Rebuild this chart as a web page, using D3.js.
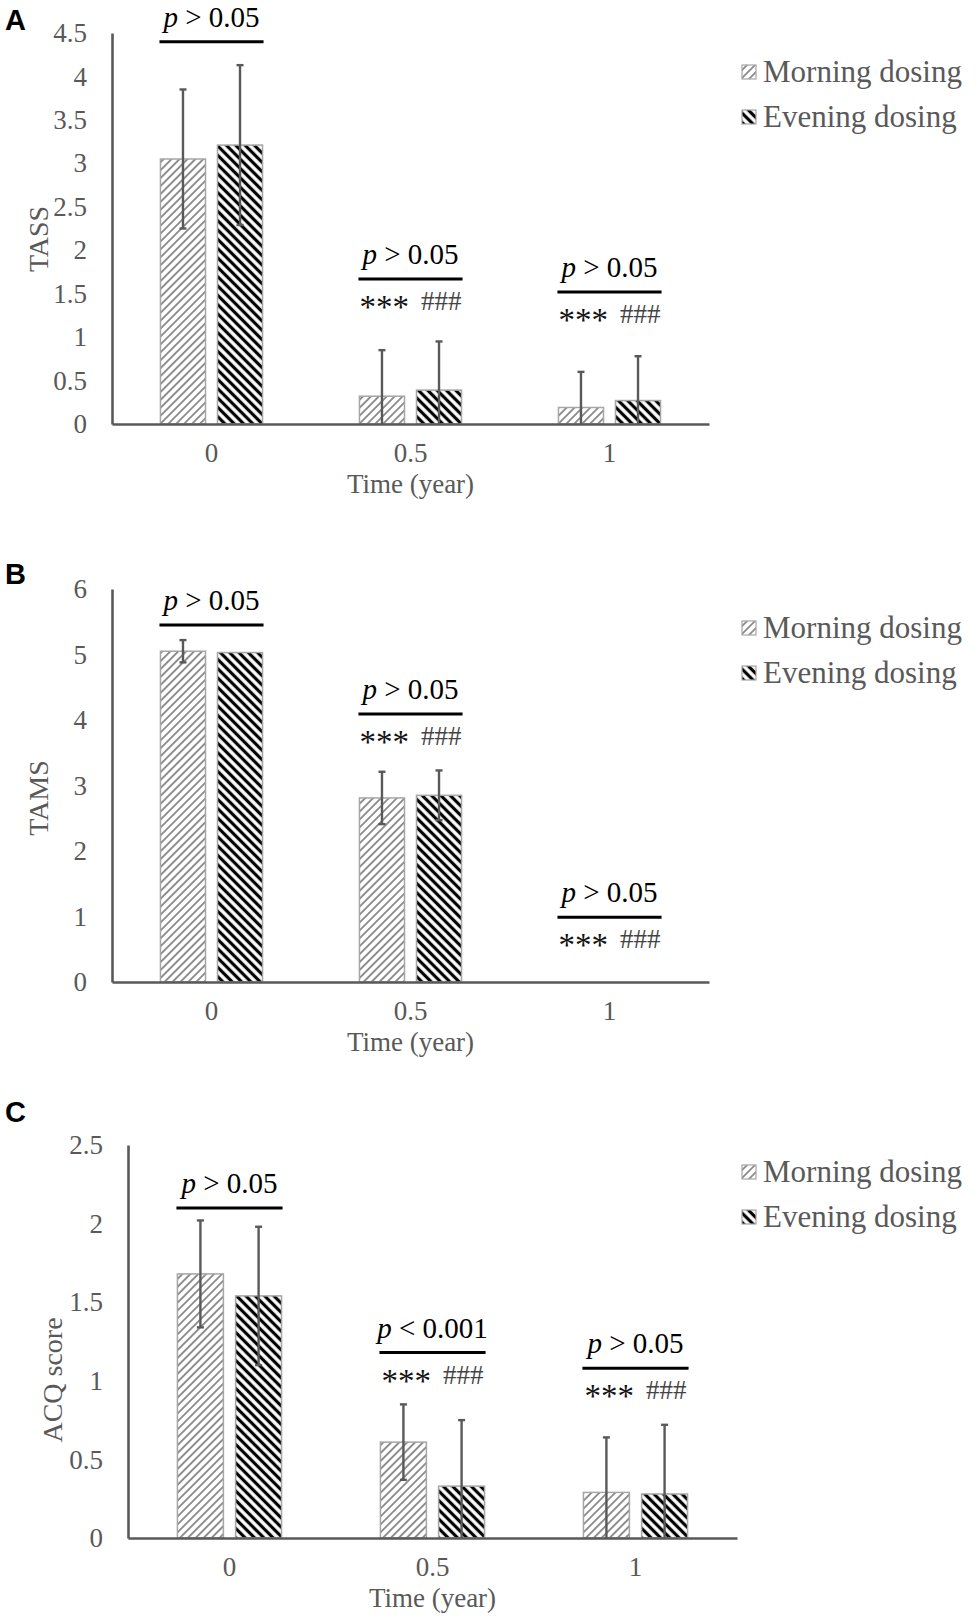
<!DOCTYPE html>
<html>
<head>
<meta charset="utf-8">
<script src="https://cdn.jsdelivr.net/npm/d3@7"></script>
<style>
	body { margin: 0; background: #fff; }
	svg text { font-family: "Liberation Serif", "Times New Roman", serif; }
	.panel-letter { font-family: "Liberation Sans", Arial, sans-serif; font-weight: bold; }
</style>
</head>
<body>
<svg id="figure" width="980" height="1623"></svg>
<script>
// ---- data ----
const timeGroups = ['0', '0.5', '1'];
const seriesNames = ['Morning dosing', 'Evening dosing'];

// A: TASS
const tassMorning = [3.05, 0.32, 0.19];
const tassMorningSd = [0.80, 0.53, 0.41];
const tassEvening = [3.21, 0.39, 0.27];
const tassEveningSd = [0.92, 0.56, 0.51];
const tassTicks = [0, 0.5, 1, 1.5, 2, 2.5, 3, 3.5, 4, 4.5];
const tassPLabels = ['> 0.05', '> 0.05', '> 0.05'];
const tassSig = [false, true, true];
const tassBracket = [4.40, 1.67, 1.52];

// B: TAMS
const tamsMorning = [5.05, 2.81, 0];
const tamsMorningSd = [0.17, 0.40, 0];
const tamsEvening = [5.03, 2.85, 0];
const tamsEveningSd = [0, 0.38, 0];
const tamsTicks = [0, 1, 2, 3, 4, 5, 6];
const tamsPLabels = ['> 0.05', '> 0.05', '> 0.05'];
const tamsSig = [false, true, true];
const tamsBracket = [5.45, 4.09, 0.99];

// C: ACQ score
const acqMorning = [1.68, 0.61, 0.29];
const acqMorningSd = [0.34, 0.24, 0.35];
const acqEvening = [1.54, 0.33, 0.28];
const acqEveningSd = [0.44, 0.42, 0.44];
const acqTicks = [0, 0.5, 1, 1.5, 2, 2.5];
const acqPLabels = ['> 0.05', '< 0.001', '> 0.05'];
const acqSig = [false, true, true];
const acqBracket = [2.10, 1.18, 1.08];

const textGrey = '#595959';

const svg = d3.select('#figure');

// hatch fills (Excel style)
const defs = svg.append('defs');
function addHatch(id, size, angle, color, width) {
	const p = defs.append('pattern')
		.attr('id', id)
		.attr('patternUnits', 'userSpaceOnUse')
		.attr('width', size)
		.attr('height', size)
		.attr('patternTransform', `rotate(${angle})`);
	p.append('rect').attr('width', size).attr('height', size).attr('fill', '#fff');
	p.append('line')
		.attr('x1', size / 2).attr('y1', 0)
		.attr('x2', size / 2).attr('y2', size)
		.attr('stroke', color)
		.attr('stroke-width', width);
}
addHatch('hatch-morning', 5.6, 45, '#878787', 1.8);
addHatch('hatch-evening', 6.6, -45, '#000', 3.2);
const fills = { 'Morning dosing': 'url(#hatch-morning)', 'Evening dosing': 'url(#hatch-evening)' };

class HatchBarChart {
	constructor(_config, _data) {
		this.config = {
			letter: _config.letter,
			letterY: _config.letterY,
			left: _config.left,
			right: _config.right,
			top: _config.top,
			bottom: _config.bottom,
			yMax: _config.yMax,
			ticks: _config.ticks,
			yTitle: _config.yTitle,
			yTitleX: _config.yTitleX,
			yTitleY: _config.yTitleY,
			legendY: _config.legendY
		};
		this.data = _data;
		this.initVis();
	}

	initVis() {
		let vis = this;
		const cfg = vis.config;

		vis.xScale = d3.scaleBand()
			.domain(timeGroups)
			.range([cfg.left, cfg.right])
			.paddingInner(0.487)
			.paddingOuter(0.2435);

		vis.xScaleSubgroup = d3.scaleBand()
			.domain(seriesNames)
			.range([0, vis.xScale.bandwidth()])
			.paddingInner(0.21);

		vis.yScale = d3.scaleLinear()
			.domain([0, cfg.yMax])
			.range([cfg.bottom, cfg.top]);

		vis.g = svg.append('g').attr('class', 'panel');

		vis.renderVis();
	}

	renderVis() {
		let vis = this;
		const cfg = vis.config;
		const y = vis.yScale;

		// bars
		const groups = vis.g.selectAll('.barGroups')
			.data(vis.data)
			.join('g')
				.attr('class', 'barGroups')
				.attr('transform', d => `translate(${vis.xScale(d.time)},0)`);

		groups.selectAll('.bar')
			.data(d => d.values.filter(v => v.value > 0))
			.join('rect')
				.attr('class', 'bar')
				.attr('x', d => vis.xScaleSubgroup(d.key))
				.attr('y', d => y(d.value))
				.attr('width', vis.xScaleSubgroup.bandwidth())
				.attr('height', d => y(0) - y(d.value))
				.attr('fill', d => fills[d.key])
				.attr('stroke', '#a6a6a6')
				.attr('stroke-width', 1.5);

		// error bars (clipped at zero like Excel)
		const err = groups.selectAll('.err')
			.data(d => d.values.filter(v => v.sd > 0))
			.join('g')
				.attr('class', 'err')
				.attr('stroke', textGrey)
				.attr('stroke-width', 2.4);
		const cx = d => vis.xScaleSubgroup(d.key) + vis.xScaleSubgroup.bandwidth() / 2;
		err.append('line')
			.attr('x1', cx).attr('x2', cx)
			.attr('y1', d => y(Math.max(0, d.value - d.sd)))
			.attr('y2', d => y(d.value + d.sd));
		err.append('line')
			.attr('x1', d => cx(d) - 3.5).attr('x2', d => cx(d) + 3.5)
			.attr('y1', d => y(d.value + d.sd)).attr('y2', d => y(d.value + d.sd));
		err.filter(d => d.value - d.sd > 0).append('line')
			.attr('x1', d => cx(d) - 3.5).attr('x2', d => cx(d) + 3.5)
			.attr('y1', d => y(d.value - d.sd)).attr('y2', d => y(d.value - d.sd));

		// axes
		const yAxis = d3.axisLeft(y).tickValues(cfg.ticks).tickFormat(d => String(d)).tickSize(0).tickSizeOuter(0).tickPadding(25);
		const xAxis = d3.axisBottom(vis.xScale).tickSize(0).tickSizeOuter(0).tickPadding(19);

		const yG = vis.g.append('g').attr('transform', `translate(${cfg.left},0)`).call(yAxis);
		const xG = vis.g.append('g').attr('transform', `translate(0,${cfg.bottom})`).call(xAxis);
		[yG, xG].forEach(a => {
			a.select('.domain').attr('stroke', textGrey).attr('stroke-width', 2.6);
			a.selectAll('text')
				.attr('fill', textGrey)
				.style('font-size', '27px')
				.style('font-family', '"Liberation Serif", serif');
		});

		vis.g.append('text')
			.attr('x', (cfg.left + cfg.right) / 2)
			.attr('y', cfg.bottom + 69)
			.attr('text-anchor', 'middle')
			.attr('fill', textGrey)
			.style('font-size', '27px')
			.text('Time (year)');

		vis.g.append('text')
			.attr('transform', `translate(${cfg.yTitleX},${cfg.yTitleY}) rotate(-90)`)
			.attr('text-anchor', 'middle')
			.attr('fill', textGrey)
			.style('font-size', '28px')
			.text(cfg.yTitle);

		// significance annotations
		const ann = vis.g.selectAll('.ann')
			.data(vis.data)
			.join('g')
				.attr('class', 'ann')
				.attr('transform', d => `translate(${vis.xScale(d.time)},${y(d.bracket)})`);

		ann.append('line')
			.attr('x1', -1).attr('x2', vis.xScale.bandwidth() + 1)
			.attr('y1', 0).attr('y2', 0)
			.attr('stroke', '#000')
			.attr('stroke-width', 3);

		const pt = ann.append('text')
			.attr('x', vis.xScale.bandwidth() / 2)
			.attr('y', -15)
			.attr('text-anchor', 'middle')
			.attr('fill', '#000')
			.style('font-size', '29px');
		pt.append('tspan').style('font-style', 'italic').text('p');
		pt.append('tspan').text(d => ' ' + d.pLabel);

		const st = ann.filter(d => d.sig).append('text')
			.attr('x', vis.xScale.bandwidth() / 2)
			.attr('y', 31)
			.attr('text-anchor', 'middle')
			.style('font-size', '27px');
		st.append('tspan').attr('fill', '#111').attr('dy', 8).style('font-size', '33px').text('***');
		st.append('tspan').attr('fill', '#444').attr('dx', 12).attr('dy', -8).text('###');

		// legend
		const legend = vis.g.selectAll('.legend')
			.data(seriesNames)
			.join('g')
				.attr('class', 'legend')
				.attr('transform', (d, i) => `translate(742,${cfg.legendY + i * 45})`);
		legend.append('rect')
			.attr('x', 0).attr('y', -17)
			.attr('width', 14).attr('height', 14)
			.attr('fill', d => fills[d])
			.attr('stroke', '#a6a6a6')
			.attr('stroke-width', 1.2);
		legend.append('text')
			.attr('x', 21)
			.attr('y', 0)
			.attr('fill', textGrey)
			.style('font-size', '31px')
			.text(d => d);

		svg.append('text')
			.attr('class', 'panel-letter')
			.attr('x', 5)
			.attr('y', cfg.letterY)
			.style('font-size', '29px')
			.attr('fill', '#000')
			.text(cfg.letter);
	}
}

function buildRows(morning, morningSd, evening, eveningSd, pLabels, sig, bracket) {
	return timeGroups.map((t, i) => ({
		time: t,
		values: [
			{ key: seriesNames[0], value: morning[i], sd: morningSd[i] },
			{ key: seriesNames[1], value: evening[i], sd: eveningSd[i] }
		],
		pLabel: pLabels[i],
		sig: sig[i],
		bracket: bracket[i]
	}));
}

new HatchBarChart({
	letter: 'A', letterY: 30,
	left: 112, right: 709, top: 33, bottom: 424, yMax: 4.5, ticks: tassTicks,
	yTitle: 'TASS', yTitleX: 48, yTitleY: 239, legendY: 82
}, buildRows(tassMorning, tassMorningSd, tassEvening, tassEveningSd, tassPLabels, tassSig, tassBracket));

new HatchBarChart({
	letter: 'B', letterY: 584,
	left: 112, right: 709, top: 589, bottom: 982, yMax: 6, ticks: tamsTicks,
	yTitle: 'TAMS', yTitleX: 48, yTitleY: 798, legendY: 638
}, buildRows(tamsMorning, tamsMorningSd, tamsEvening, tamsEveningSd, tamsPLabels, tamsSig, tamsBracket));

new HatchBarChart({
	letter: 'C', letterY: 1122,
	left: 128, right: 737, top: 1145, bottom: 1538, yMax: 2.5, ticks: acqTicks,
	yTitle: 'ACQ score', yTitleX: 62, yTitleY: 1380, legendY: 1182
}, buildRows(acqMorning, acqMorningSd, acqEvening, acqEveningSd, acqPLabels, acqSig, acqBracket));
</script>
</body>
</html>
